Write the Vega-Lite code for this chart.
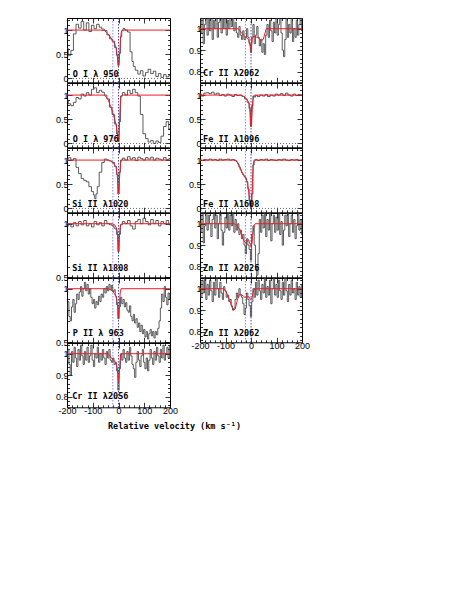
{
"$schema":"https://vega.github.io/schema/vega-lite/v6.json",
"padding":{"left":54,"top":15,"right":0,"bottom":0},
"background":"white",
"config":{"view":{"stroke":"black","strokeWidth":1},"axis":{"domain":false,"grid":false,"tickColor":"black","tickWidth":0.8,"labelFont":"Liberation Sans","labelFontSize":9,"labelColor":"black","labelOverlap":false,"labelFlush":false,"labelBound":false},"axisX":{"labelPadding":4.5},"axisY":{"labelPadding":4}},
"title":{"text":"Relative velocity (km s⁻¹)","orient":"bottom","anchor":"start","frame":"group","dx":41,"font":"DejaVu Sans Mono","fontSize":8.5,"fontWeight":"bold","color":"black","offset":3},
"datasets":{"s":[
{"p":"a","s":"d","v":-200,"f":0.62},{"p":"a","s":"d","v":-190,"f":0.48},{"p":"a","s":"d","v":-180,"f":0.58},{"p":"a","s":"d","v":-170,"f":0.92},{"p":"a","s":"d","v":-160,"f":1.12},{"p":"a","s":"d","v":-150,"f":1.04},{"p":"a","s":"d","v":-140,"f":1.18},{"p":"a","s":"d","v":-130,"f":1.0},{"p":"a","s":"d","v":-120,"f":1.15},{"p":"a","s":"d","v":-110,"f":0.97},{"p":"a","s":"d","v":-100,"f":1.1},{"p":"a","s":"d","v":-90,"f":1.03},{"p":"a","s":"d","v":-80,"f":1.12},{"p":"a","s":"d","v":-70,"f":1.06},{"p":"a","s":"d","v":-60,"f":1.02},{"p":"a","s":"d","v":-50,"f":0.99},{"p":"a","s":"d","v":-40,"f":0.9},{"p":"a","s":"d","v":-30,"f":0.82},{"p":"a","s":"d","v":-20,"f":0.77},{"p":"a","s":"d","v":-10,"f":0.64},{"p":"a","s":"d","v":-5,"f":0.48},{"p":"a","s":"d","v":0,"f":0.27},{"p":"a","s":"d","v":5,"f":0.52},{"p":"a","s":"d","v":10,"f":0.86},{"p":"a","s":"d","v":15,"f":0.99},{"p":"a","s":"d","v":20,"f":1.03},{"p":"a","s":"d","v":30,"f":1.0},{"p":"a","s":"d","v":40,"f":0.96},{"p":"a","s":"d","v":50,"f":0.55},{"p":"a","s":"d","v":55,"f":0.35},{"p":"a","s":"d","v":60,"f":0.25},{"p":"a","s":"d","v":70,"f":0.17},{"p":"a","s":"d","v":80,"f":0.09},{"p":"a","s":"d","v":90,"f":0.16},{"p":"a","s":"d","v":100,"f":0.05},{"p":"a","s":"d","v":110,"f":0.12},{"p":"a","s":"d","v":120,"f":0.19},{"p":"a","s":"d","v":130,"f":0.1},{"p":"a","s":"d","v":140,"f":0.15},{"p":"a","s":"d","v":150,"f":0.04},{"p":"a","s":"d","v":160,"f":0.1},{"p":"a","s":"d","v":170,"f":0.02},{"p":"a","s":"d","v":180,"f":0.08},{"p":"a","s":"d","v":190,"f":0.03},{"p":"a","s":"d","v":200,"f":0.06},
{"p":"a","s":"m","v":-200,"f":1},{"p":"a","s":"m","v":-70,"f":1},{"p":"a","s":"m","v":-55,"f":0.99},{"p":"a","s":"m","v":-45,"f":0.95},{"p":"a","s":"m","v":-35,"f":0.88},{"p":"a","s":"m","v":-25,"f":0.8},{"p":"a","s":"m","v":-20,"f":0.76},{"p":"a","s":"m","v":-15,"f":0.72},{"p":"a","s":"m","v":-10,"f":0.64},{"p":"a","s":"m","v":-5,"f":0.48},{"p":"a","s":"m","v":-2,"f":0.33},{"p":"a","s":"m","v":0,"f":0.28},{"p":"a","s":"m","v":2,"f":0.32},{"p":"a","s":"m","v":5,"f":0.55},{"p":"a","s":"m","v":8,"f":0.82},{"p":"a","s":"m","v":11,"f":0.96},{"p":"a","s":"m","v":15,"f":1},{"p":"a","s":"m","v":200,"f":1},
{"p":"b","s":"d","v":-200,"f":0.9},{"p":"b","s":"d","v":-190,"f":0.82},{"p":"b","s":"d","v":-180,"f":0.78},{"p":"b","s":"d","v":-170,"f":0.85},{"p":"b","s":"d","v":-160,"f":0.95},{"p":"b","s":"d","v":-150,"f":0.92},{"p":"b","s":"d","v":-140,"f":1.02},{"p":"b","s":"d","v":-130,"f":0.98},{"p":"b","s":"d","v":-120,"f":1.05},{"p":"b","s":"d","v":-110,"f":1.0},{"p":"b","s":"d","v":-100,"f":1.12},{"p":"b","s":"d","v":-90,"f":1.15},{"p":"b","s":"d","v":-80,"f":1.05},{"p":"b","s":"d","v":-70,"f":1.1},{"p":"b","s":"d","v":-60,"f":1.06},{"p":"b","s":"d","v":-50,"f":1.0},{"p":"b","s":"d","v":-40,"f":0.92},{"p":"b","s":"d","v":-30,"f":0.75},{"p":"b","s":"d","v":-20,"f":0.6},{"p":"b","s":"d","v":-10,"f":0.4},{"p":"b","s":"d","v":-5,"f":0.2},{"p":"b","s":"d","v":0,"f":0.04},{"p":"b","s":"d","v":5,"f":0.45},{"p":"b","s":"d","v":10,"f":0.98},{"p":"b","s":"d","v":20,"f":1.05},{"p":"b","s":"d","v":30,"f":1.0},{"p":"b","s":"d","v":40,"f":1.1},{"p":"b","s":"d","v":50,"f":1.03},{"p":"b","s":"d","v":60,"f":1.12},{"p":"b","s":"d","v":70,"f":1.05},{"p":"b","s":"d","v":80,"f":0.98},{"p":"b","s":"d","v":90,"f":0.6},{"p":"b","s":"d","v":100,"f":0.2},{"p":"b","s":"d","v":110,"f":0.1},{"p":"b","s":"d","v":120,"f":0.03},{"p":"b","s":"d","v":130,"f":0.06},{"p":"b","s":"d","v":140,"f":0.0},{"p":"b","s":"d","v":150,"f":0.05},{"p":"b","s":"d","v":160,"f":0.02},{"p":"b","s":"d","v":170,"f":0.15},{"p":"b","s":"d","v":180,"f":0.35},{"p":"b","s":"d","v":190,"f":0.45},{"p":"b","s":"d","v":200,"f":0.3},
{"p":"b","s":"m","v":-200,"f":1},{"p":"b","s":"m","v":-60,"f":1},{"p":"b","s":"m","v":-50,"f":0.98},{"p":"b","s":"m","v":-40,"f":0.9},{"p":"b","s":"m","v":-30,"f":0.76},{"p":"b","s":"m","v":-20,"f":0.6},{"p":"b","s":"m","v":-10,"f":0.4},{"p":"b","s":"m","v":-5,"f":0.25},{"p":"b","s":"m","v":-2,"f":0.12},{"p":"b","s":"m","v":0,"f":0.07},{"p":"b","s":"m","v":2,"f":0.15},{"p":"b","s":"m","v":4,"f":0.45},{"p":"b","s":"m","v":7,"f":0.8},{"p":"b","s":"m","v":10,"f":0.96},{"p":"b","s":"m","v":14,"f":1},{"p":"b","s":"m","v":200,"f":1},
{"p":"c","s":"d","v":-200,"f":1.02},{"p":"c","s":"d","v":-190,"f":1.05},{"p":"c","s":"d","v":-180,"f":1.0},{"p":"c","s":"d","v":-170,"f":1.03},{"p":"c","s":"d","v":-160,"f":0.85},{"p":"c","s":"d","v":-150,"f":0.72},{"p":"c","s":"d","v":-140,"f":0.62},{"p":"c","s":"d","v":-130,"f":0.58},{"p":"c","s":"d","v":-120,"f":0.55},{"p":"c","s":"d","v":-110,"f":0.45},{"p":"c","s":"d","v":-100,"f":0.35},{"p":"c","s":"d","v":-95,"f":0.28},{"p":"c","s":"d","v":-90,"f":0.2},{"p":"c","s":"d","v":-85,"f":0.3},{"p":"c","s":"d","v":-80,"f":0.45},{"p":"c","s":"d","v":-70,"f":0.75},{"p":"c","s":"d","v":-60,"f":0.95},{"p":"c","s":"d","v":-50,"f":1.02},{"p":"c","s":"d","v":-40,"f":1.0},{"p":"c","s":"d","v":-30,"f":0.98},{"p":"c","s":"d","v":-20,"f":0.95},{"p":"c","s":"d","v":-10,"f":0.87},{"p":"c","s":"d","v":-5,"f":0.7},{"p":"c","s":"d","v":0,"f":0.3},{"p":"c","s":"d","v":5,"f":0.75},{"p":"c","s":"d","v":10,"f":1.0},{"p":"c","s":"d","v":20,"f":1.04},{"p":"c","s":"d","v":30,"f":1.0},{"p":"c","s":"d","v":40,"f":1.07},{"p":"c","s":"d","v":50,"f":1.02},{"p":"c","s":"d","v":60,"f":1.05},{"p":"c","s":"d","v":70,"f":0.99},{"p":"c","s":"d","v":80,"f":1.06},{"p":"c","s":"d","v":90,"f":1.03},{"p":"c","s":"d","v":100,"f":1.0},{"p":"c","s":"d","v":110,"f":1.05},{"p":"c","s":"d","v":120,"f":1.02},{"p":"c","s":"d","v":130,"f":1.06},{"p":"c","s":"d","v":140,"f":1.0},{"p":"c","s":"d","v":150,"f":1.04},{"p":"c","s":"d","v":160,"f":1.02},{"p":"c","s":"d","v":170,"f":1.0},{"p":"c","s":"d","v":180,"f":1.05},{"p":"c","s":"d","v":190,"f":1.01},{"p":"c","s":"d","v":200,"f":1.03},
{"p":"c","s":"m","v":-200,"f":1},{"p":"c","s":"m","v":-40,"f":1},{"p":"c","s":"m","v":-30,"f":0.98},{"p":"c","s":"m","v":-20,"f":0.94},{"p":"c","s":"m","v":-15,"f":0.9},{"p":"c","s":"m","v":-10,"f":0.86},{"p":"c","s":"m","v":-5,"f":0.7},{"p":"c","s":"m","v":-2,"f":0.45},{"p":"c","s":"m","v":0,"f":0.3},{"p":"c","s":"m","v":2,"f":0.4},{"p":"c","s":"m","v":5,"f":0.72},{"p":"c","s":"m","v":8,"f":0.93},{"p":"c","s":"m","v":12,"f":1},{"p":"c","s":"m","v":200,"f":1},
{"p":"d","s":"d","v":-200,"f":0.98},{"p":"d","s":"d","v":-190,"f":1.0},{"p":"d","s":"d","v":-180,"f":0.97},{"p":"d","s":"d","v":-170,"f":1.01},{"p":"d","s":"d","v":-160,"f":0.98},{"p":"d","s":"d","v":-150,"f":1.02},{"p":"d","s":"d","v":-140,"f":0.99},{"p":"d","s":"d","v":-130,"f":1.03},{"p":"d","s":"d","v":-120,"f":0.98},{"p":"d","s":"d","v":-110,"f":1.0},{"p":"d","s":"d","v":-100,"f":0.97},{"p":"d","s":"d","v":-90,"f":1.02},{"p":"d","s":"d","v":-80,"f":0.99},{"p":"d","s":"d","v":-70,"f":1.01},{"p":"d","s":"d","v":-60,"f":0.98},{"p":"d","s":"d","v":-50,"f":1.03},{"p":"d","s":"d","v":-40,"f":1.0},{"p":"d","s":"d","v":-30,"f":0.99},{"p":"d","s":"d","v":-20,"f":0.98},{"p":"d","s":"d","v":-15,"f":0.96},{"p":"d","s":"d","v":-10,"f":0.95},{"p":"d","s":"d","v":-5,"f":0.9},{"p":"d","s":"d","v":0,"f":0.74},{"p":"d","s":"d","v":5,"f":0.9},{"p":"d","s":"d","v":10,"f":0.99},{"p":"d","s":"d","v":20,"f":1.02},{"p":"d","s":"d","v":30,"f":1.0},{"p":"d","s":"d","v":40,"f":1.03},{"p":"d","s":"d","v":50,"f":0.98},{"p":"d","s":"d","v":60,"f":0.95},{"p":"d","s":"d","v":70,"f":1.02},{"p":"d","s":"d","v":80,"f":1.04},{"p":"d","s":"d","v":90,"f":1.0},{"p":"d","s":"d","v":100,"f":1.05},{"p":"d","s":"d","v":110,"f":1.02},{"p":"d","s":"d","v":120,"f":0.99},{"p":"d","s":"d","v":130,"f":1.04},{"p":"d","s":"d","v":140,"f":1.0},{"p":"d","s":"d","v":150,"f":1.03},{"p":"d","s":"d","v":160,"f":0.98},{"p":"d","s":"d","v":170,"f":1.02},{"p":"d","s":"d","v":180,"f":1.0},{"p":"d","s":"d","v":190,"f":1.03},{"p":"d","s":"d","v":200,"f":0.99},
{"p":"d","s":"m","v":-200,"f":1},{"p":"d","s":"m","v":-25,"f":1},{"p":"d","s":"m","v":-15,"f":0.99},{"p":"d","s":"m","v":-10,"f":0.97},{"p":"d","s":"m","v":-5,"f":0.93},{"p":"d","s":"m","v":-2,"f":0.84},{"p":"d","s":"m","v":0,"f":0.75},{"p":"d","s":"m","v":2,"f":0.82},{"p":"d","s":"m","v":5,"f":0.94},{"p":"d","s":"m","v":8,"f":0.99},{"p":"d","s":"m","v":12,"f":1},{"p":"d","s":"m","v":200,"f":1},
{"p":"e","s":"d","v":-200,"f":0.8},{"p":"e","s":"d","v":-195,"f":0.88},{"p":"e","s":"d","v":-190,"f":0.74},{"p":"e","s":"d","v":-185,"f":0.7},{"p":"e","s":"d","v":-180,"f":0.83},{"p":"e","s":"d","v":-175,"f":0.9},{"p":"e","s":"d","v":-170,"f":0.78},{"p":"e","s":"d","v":-165,"f":0.86},{"p":"e","s":"d","v":-160,"f":0.95},{"p":"e","s":"d","v":-155,"f":0.9},{"p":"e","s":"d","v":-150,"f":0.97},{"p":"e","s":"d","v":-145,"f":1.02},{"p":"e","s":"d","v":-140,"f":0.93},{"p":"e","s":"d","v":-135,"f":1.0},{"p":"e","s":"d","v":-130,"f":1.06},{"p":"e","s":"d","v":-125,"f":0.98},{"p":"e","s":"d","v":-120,"f":1.04},{"p":"e","s":"d","v":-115,"f":0.95},{"p":"e","s":"d","v":-110,"f":1.0},{"p":"e","s":"d","v":-105,"f":0.92},{"p":"e","s":"d","v":-100,"f":0.86},{"p":"e","s":"d","v":-95,"f":0.9},{"p":"e","s":"d","v":-90,"f":0.82},{"p":"e","s":"d","v":-85,"f":0.88},{"p":"e","s":"d","v":-80,"f":0.85},{"p":"e","s":"d","v":-75,"f":0.93},{"p":"e","s":"d","v":-70,"f":0.88},{"p":"e","s":"d","v":-65,"f":0.95},{"p":"e","s":"d","v":-60,"f":0.92},{"p":"e","s":"d","v":-55,"f":1.0},{"p":"e","s":"d","v":-50,"f":0.96},{"p":"e","s":"d","v":-45,"f":1.02},{"p":"e","s":"d","v":-40,"f":0.98},{"p":"e","s":"d","v":-35,"f":1.04},{"p":"e","s":"d","v":-30,"f":0.99},{"p":"e","s":"d","v":-25,"f":1.03},{"p":"e","s":"d","v":-20,"f":0.97},{"p":"e","s":"d","v":-15,"f":0.99},{"p":"e","s":"d","v":-10,"f":0.93},{"p":"e","s":"d","v":-5,"f":0.85},{"p":"e","s":"d","v":0,"f":0.72},{"p":"e","s":"d","v":5,"f":0.83},{"p":"e","s":"d","v":10,"f":0.92},{"p":"e","s":"d","v":15,"f":0.86},{"p":"e","s":"d","v":20,"f":0.9},{"p":"e","s":"d","v":25,"f":0.83},{"p":"e","s":"d","v":30,"f":0.87},{"p":"e","s":"d","v":35,"f":0.8},{"p":"e","s":"d","v":40,"f":0.78},{"p":"e","s":"d","v":45,"f":0.84},{"p":"e","s":"d","v":50,"f":0.74},{"p":"e","s":"d","v":55,"f":0.7},{"p":"e","s":"d","v":60,"f":0.76},{"p":"e","s":"d","v":65,"f":0.68},{"p":"e","s":"d","v":70,"f":0.72},{"p":"e","s":"d","v":75,"f":0.64},{"p":"e","s":"d","v":80,"f":0.68},{"p":"e","s":"d","v":85,"f":0.6},{"p":"e","s":"d","v":90,"f":0.66},{"p":"e","s":"d","v":95,"f":0.58},{"p":"e","s":"d","v":100,"f":0.62},{"p":"e","s":"d","v":105,"f":0.55},{"p":"e","s":"d","v":110,"f":0.6},{"p":"e","s":"d","v":115,"f":0.53},{"p":"e","s":"d","v":120,"f":0.58},{"p":"e","s":"d","v":125,"f":0.62},{"p":"e","s":"d","v":130,"f":0.56},{"p":"e","s":"d","v":135,"f":0.6},{"p":"e","s":"d","v":140,"f":0.54},{"p":"e","s":"d","v":145,"f":0.6},{"p":"e","s":"d","v":150,"f":0.57},{"p":"e","s":"d","v":155,"f":0.63},{"p":"e","s":"d","v":160,"f":0.7},{"p":"e","s":"d","v":165,"f":0.82},{"p":"e","s":"d","v":170,"f":0.95},{"p":"e","s":"d","v":175,"f":0.88},{"p":"e","s":"d","v":180,"f":1.02},{"p":"e","s":"d","v":185,"f":0.92},{"p":"e","s":"d","v":190,"f":0.85},{"p":"e","s":"d","v":195,"f":0.96},{"p":"e","s":"d","v":200,"f":0.9},
{"p":"e","s":"m","v":-200,"f":1},{"p":"e","s":"m","v":-40,"f":1},{"p":"e","s":"m","v":-30,"f":0.99},{"p":"e","s":"m","v":-20,"f":0.97},{"p":"e","s":"m","v":-15,"f":0.955},{"p":"e","s":"m","v":-10,"f":0.93},{"p":"e","s":"m","v":-5,"f":0.88},{"p":"e","s":"m","v":-2,"f":0.8},{"p":"e","s":"m","v":0,"f":0.73},{"p":"e","s":"m","v":2,"f":0.78},{"p":"e","s":"m","v":4,"f":0.88},{"p":"e","s":"m","v":7,"f":0.97},{"p":"e","s":"m","v":10,"f":1},{"p":"e","s":"m","v":200,"f":1},
{"p":"f","s":"d","v":-200,"f":0.97},{"p":"f","s":"d","v":-195,"f":1.02},{"p":"f","s":"d","v":-190,"f":0.95},{"p":"f","s":"d","v":-185,"f":0.9},{"p":"f","s":"d","v":-180,"f":1.01},{"p":"f","s":"d","v":-175,"f":0.96},{"p":"f","s":"d","v":-170,"f":1.03},{"p":"f","s":"d","v":-165,"f":0.98},{"p":"f","s":"d","v":-160,"f":0.94},{"p":"f","s":"d","v":-155,"f":1.02},{"p":"f","s":"d","v":-150,"f":0.97},{"p":"f","s":"d","v":-145,"f":1.04},{"p":"f","s":"d","v":-140,"f":0.99},{"p":"f","s":"d","v":-135,"f":0.95},{"p":"f","s":"d","v":-130,"f":1.01},{"p":"f","s":"d","v":-125,"f":0.97},{"p":"f","s":"d","v":-120,"f":1.03},{"p":"f","s":"d","v":-115,"f":0.96},{"p":"f","s":"d","v":-110,"f":0.99},{"p":"f","s":"d","v":-105,"f":1.04},{"p":"f","s":"d","v":-100,"f":0.97},{"p":"f","s":"d","v":-95,"f":0.94},{"p":"f","s":"d","v":-90,"f":1.0},{"p":"f","s":"d","v":-85,"f":0.98},{"p":"f","s":"d","v":-80,"f":1.03},{"p":"f","s":"d","v":-75,"f":0.96},{"p":"f","s":"d","v":-70,"f":1.0},{"p":"f","s":"d","v":-65,"f":0.97},{"p":"f","s":"d","v":-60,"f":1.02},{"p":"f","s":"d","v":-55,"f":0.98},{"p":"f","s":"d","v":-50,"f":0.95},{"p":"f","s":"d","v":-45,"f":1.01},{"p":"f","s":"d","v":-40,"f":0.98},{"p":"f","s":"d","v":-35,"f":1.02},{"p":"f","s":"d","v":-30,"f":0.97},{"p":"f","s":"d","v":-25,"f":0.96},{"p":"f","s":"d","v":-20,"f":0.98},{"p":"f","s":"d","v":-15,"f":0.95},{"p":"f","s":"d","v":-10,"f":0.96},{"p":"f","s":"d","v":-5,"f":0.92},{"p":"f","s":"d","v":0,"f":0.83},{"p":"f","s":"d","v":5,"f":0.93},{"p":"f","s":"d","v":10,"f":1.0},{"p":"f","s":"d","v":15,"f":0.97},{"p":"f","s":"d","v":20,"f":1.02},{"p":"f","s":"d","v":25,"f":0.98},{"p":"f","s":"d","v":30,"f":0.96},{"p":"f","s":"d","v":35,"f":1.01},{"p":"f","s":"d","v":40,"f":0.97},{"p":"f","s":"d","v":45,"f":1.03},{"p":"f","s":"d","v":50,"f":0.99},{"p":"f","s":"d","v":55,"f":0.95},{"p":"f","s":"d","v":60,"f":0.93},{"p":"f","s":"d","v":65,"f":0.89},{"p":"f","s":"d","v":70,"f":0.96},{"p":"f","s":"d","v":75,"f":1.01},{"p":"f","s":"d","v":80,"f":0.97},{"p":"f","s":"d","v":85,"f":0.94},{"p":"f","s":"d","v":90,"f":0.99},{"p":"f","s":"d","v":95,"f":1.02},{"p":"f","s":"d","v":100,"f":0.96},{"p":"f","s":"d","v":105,"f":0.93},{"p":"f","s":"d","v":110,"f":0.98},{"p":"f","s":"d","v":115,"f":0.92},{"p":"f","s":"d","v":120,"f":0.97},{"p":"f","s":"d","v":125,"f":1.02},{"p":"f","s":"d","v":130,"f":0.98},{"p":"f","s":"d","v":135,"f":0.95},{"p":"f","s":"d","v":140,"f":1.01},{"p":"f","s":"d","v":145,"f":0.97},{"p":"f","s":"d","v":150,"f":1.03},{"p":"f","s":"d","v":155,"f":0.99},{"p":"f","s":"d","v":160,"f":0.96},{"p":"f","s":"d","v":165,"f":1.02},{"p":"f","s":"d","v":170,"f":0.98},{"p":"f","s":"d","v":175,"f":1.04},{"p":"f","s":"d","v":180,"f":0.97},{"p":"f","s":"d","v":185,"f":1.0},{"p":"f","s":"d","v":190,"f":1.03},{"p":"f","s":"d","v":195,"f":0.98},{"p":"f","s":"d","v":200,"f":1.04},
{"p":"f","s":"m","v":-200,"f":1},{"p":"f","s":"m","v":-40,"f":1},{"p":"f","s":"m","v":-33,"f":0.99},{"p":"f","s":"m","v":-27,"f":0.978},{"p":"f","s":"m","v":-22,"f":0.972},{"p":"f","s":"m","v":-16,"f":0.968},{"p":"f","s":"m","v":-10,"f":0.955},{"p":"f","s":"m","v":-5,"f":0.935},{"p":"f","s":"m","v":-2,"f":0.9},{"p":"f","s":"m","v":0,"f":0.87},{"p":"f","s":"m","v":2,"f":0.89},{"p":"f","s":"m","v":5,"f":0.95},{"p":"f","s":"m","v":8,"f":0.99},{"p":"f","s":"m","v":12,"f":1},{"p":"f","s":"m","v":200,"f":1},
{"p":"g","s":"d","v":-200,"f":1.04},{"p":"g","s":"d","v":-195,"f":0.98},{"p":"g","s":"d","v":-190,"f":1.05},{"p":"g","s":"d","v":-185,"f":0.93},{"p":"g","s":"d","v":-180,"f":1.02},{"p":"g","s":"d","v":-175,"f":1.06},{"p":"g","s":"d","v":-170,"f":0.97},{"p":"g","s":"d","v":-165,"f":1.05},{"p":"g","s":"d","v":-160,"f":0.99},{"p":"g","s":"d","v":-155,"f":1.06},{"p":"g","s":"d","v":-150,"f":0.95},{"p":"g","s":"d","v":-145,"f":1.04},{"p":"g","s":"d","v":-140,"f":1.0},{"p":"g","s":"d","v":-135,"f":1.06},{"p":"g","s":"d","v":-130,"f":0.96},{"p":"g","s":"d","v":-125,"f":1.03},{"p":"g","s":"d","v":-120,"f":1.06},{"p":"g","s":"d","v":-115,"f":0.98},{"p":"g","s":"d","v":-110,"f":1.05},{"p":"g","s":"d","v":-105,"f":1.0},{"p":"g","s":"d","v":-100,"f":1.06},{"p":"g","s":"d","v":-95,"f":0.97},{"p":"g","s":"d","v":-90,"f":1.04},{"p":"g","s":"d","v":-85,"f":1.0},{"p":"g","s":"d","v":-80,"f":1.06},{"p":"g","s":"d","v":-75,"f":1.01},{"p":"g","s":"d","v":-70,"f":1.05},{"p":"g","s":"d","v":-65,"f":0.99},{"p":"g","s":"d","v":-60,"f":1.03},{"p":"g","s":"d","v":-55,"f":0.98},{"p":"g","s":"d","v":-50,"f":0.96},{"p":"g","s":"d","v":-45,"f":1.01},{"p":"g","s":"d","v":-40,"f":0.97},{"p":"g","s":"d","v":-35,"f":0.95},{"p":"g","s":"d","v":-30,"f":0.99},{"p":"g","s":"d","v":-25,"f":0.95},{"p":"g","s":"d","v":-20,"f":0.96},{"p":"g","s":"d","v":-15,"f":1.0},{"p":"g","s":"d","v":-10,"f":0.96},{"p":"g","s":"d","v":-5,"f":0.93},{"p":"g","s":"d","v":0,"f":0.89},{"p":"g","s":"d","v":5,"f":0.96},{"p":"g","s":"d","v":10,"f":1.02},{"p":"g","s":"d","v":15,"f":0.93},{"p":"g","s":"d","v":20,"f":0.97},{"p":"g","s":"d","v":25,"f":1.01},{"p":"g","s":"d","v":30,"f":0.96},{"p":"g","s":"d","v":35,"f":0.92},{"p":"g","s":"d","v":40,"f":0.95},{"p":"g","s":"d","v":45,"f":0.89},{"p":"g","s":"d","v":50,"f":0.93},{"p":"g","s":"d","v":55,"f":0.88},{"p":"g","s":"d","v":60,"f":0.97},{"p":"g","s":"d","v":65,"f":1.02},{"p":"g","s":"d","v":70,"f":0.96},{"p":"g","s":"d","v":75,"f":1.04},{"p":"g","s":"d","v":80,"f":0.99},{"p":"g","s":"d","v":85,"f":0.94},{"p":"g","s":"d","v":90,"f":1.03},{"p":"g","s":"d","v":95,"f":0.98},{"p":"g","s":"d","v":100,"f":1.05},{"p":"g","s":"d","v":105,"f":0.97},{"p":"g","s":"d","v":110,"f":1.02},{"p":"g","s":"d","v":115,"f":1.06},{"p":"g","s":"d","v":120,"f":0.98},{"p":"g","s":"d","v":125,"f":0.9},{"p":"g","s":"d","v":130,"f":0.87},{"p":"g","s":"d","v":135,"f":0.95},{"p":"g","s":"d","v":140,"f":1.05},{"p":"g","s":"d","v":145,"f":0.96},{"p":"g","s":"d","v":150,"f":1.02},{"p":"g","s":"d","v":155,"f":0.98},{"p":"g","s":"d","v":160,"f":1.05},{"p":"g","s":"d","v":165,"f":0.94},{"p":"g","s":"d","v":170,"f":1.0},{"p":"g","s":"d","v":175,"f":0.96},{"p":"g","s":"d","v":180,"f":1.04},{"p":"g","s":"d","v":185,"f":0.97},{"p":"g","s":"d","v":190,"f":1.02},{"p":"g","s":"d","v":195,"f":1.05},{"p":"g","s":"d","v":200,"f":0.99},
{"p":"g","s":"m","v":-200,"f":1},{"p":"g","s":"m","v":-50,"f":1},{"p":"g","s":"m","v":-40,"f":0.985},{"p":"g","s":"m","v":-30,"f":0.97},{"p":"g","s":"m","v":-20,"f":0.96},{"p":"g","s":"m","v":-10,"f":0.95},{"p":"g","s":"m","v":-5,"f":0.93},{"p":"g","s":"m","v":0,"f":0.9},{"p":"g","s":"m","v":5,"f":0.95},{"p":"g","s":"m","v":10,"f":0.965},{"p":"g","s":"m","v":20,"f":0.962},{"p":"g","s":"m","v":30,"f":0.955},{"p":"g","s":"m","v":40,"f":0.945},{"p":"g","s":"m","v":48,"f":0.95},{"p":"g","s":"m","v":55,"f":0.98},{"p":"g","s":"m","v":60,"f":1},{"p":"g","s":"m","v":200,"f":1},
{"p":"h","s":"d","v":-200,"f":1.02},{"p":"h","s":"d","v":-190,"f":0.98},{"p":"h","s":"d","v":-180,"f":1.04},{"p":"h","s":"d","v":-170,"f":1.05},{"p":"h","s":"d","v":-160,"f":1.03},{"p":"h","s":"d","v":-150,"f":1.06},{"p":"h","s":"d","v":-140,"f":1.02},{"p":"h","s":"d","v":-130,"f":1.04},{"p":"h","s":"d","v":-120,"f":0.99},{"p":"h","s":"d","v":-110,"f":1.01},{"p":"h","s":"d","v":-100,"f":0.98},{"p":"h","s":"d","v":-90,"f":1.02},{"p":"h","s":"d","v":-80,"f":1.0},{"p":"h","s":"d","v":-70,"f":0.97},{"p":"h","s":"d","v":-60,"f":1.01},{"p":"h","s":"d","v":-50,"f":0.99},{"p":"h","s":"d","v":-40,"f":1.0},{"p":"h","s":"d","v":-30,"f":0.97},{"p":"h","s":"d","v":-20,"f":0.92},{"p":"h","s":"d","v":-10,"f":0.85},{"p":"h","s":"d","v":-5,"f":0.72},{"p":"h","s":"d","v":0,"f":0.37},{"p":"h","s":"d","v":5,"f":0.78},{"p":"h","s":"d","v":10,"f":0.98},{"p":"h","s":"d","v":15,"f":0.96},{"p":"h","s":"d","v":20,"f":0.99},{"p":"h","s":"d","v":30,"f":0.97},{"p":"h","s":"d","v":40,"f":1.0},{"p":"h","s":"d","v":50,"f":0.98},{"p":"h","s":"d","v":60,"f":1.01},{"p":"h","s":"d","v":70,"f":0.97},{"p":"h","s":"d","v":80,"f":1.0},{"p":"h","s":"d","v":90,"f":0.98},{"p":"h","s":"d","v":100,"f":1.02},{"p":"h","s":"d","v":110,"f":1.0},{"p":"h","s":"d","v":120,"f":1.03},{"p":"h","s":"d","v":130,"f":0.99},{"p":"h","s":"d","v":140,"f":1.04},{"p":"h","s":"d","v":150,"f":1.0},{"p":"h","s":"d","v":160,"f":0.98},{"p":"h","s":"d","v":170,"f":1.02},{"p":"h","s":"d","v":180,"f":0.99},{"p":"h","s":"d","v":190,"f":1.01},{"p":"h","s":"d","v":200,"f":1.0},
{"p":"h","s":"m","v":-200,"f":1},{"p":"h","s":"m","v":-45,"f":1},{"p":"h","s":"m","v":-35,"f":0.99},{"p":"h","s":"m","v":-25,"f":0.96},{"p":"h","s":"m","v":-18,"f":0.92},{"p":"h","s":"m","v":-12,"f":0.88},{"p":"h","s":"m","v":-7,"f":0.8},{"p":"h","s":"m","v":-4,"f":0.65},{"p":"h","s":"m","v":-2,"f":0.45},{"p":"h","s":"m","v":0,"f":0.34},{"p":"h","s":"m","v":2,"f":0.42},{"p":"h","s":"m","v":4,"f":0.62},{"p":"h","s":"m","v":7,"f":0.86},{"p":"h","s":"m","v":10,"f":0.97},{"p":"h","s":"m","v":14,"f":1},{"p":"h","s":"m","v":200,"f":1},
{"p":"i","s":"d","v":-200,"f":1.0},{"p":"i","s":"d","v":-190,"f":0.99},{"p":"i","s":"d","v":-180,"f":1.01},{"p":"i","s":"d","v":-170,"f":1.0},{"p":"i","s":"d","v":-160,"f":1.02},{"p":"i","s":"d","v":-150,"f":1.0},{"p":"i","s":"d","v":-140,"f":1.01},{"p":"i","s":"d","v":-130,"f":0.99},{"p":"i","s":"d","v":-120,"f":1.02},{"p":"i","s":"d","v":-110,"f":1.0},{"p":"i","s":"d","v":-100,"f":1.01},{"p":"i","s":"d","v":-90,"f":1.02},{"p":"i","s":"d","v":-80,"f":1.0},{"p":"i","s":"d","v":-70,"f":1.01},{"p":"i","s":"d","v":-60,"f":0.99},{"p":"i","s":"d","v":-55,"f":0.96},{"p":"i","s":"d","v":-50,"f":0.92},{"p":"i","s":"d","v":-45,"f":0.86},{"p":"i","s":"d","v":-40,"f":0.8},{"p":"i","s":"d","v":-35,"f":0.74},{"p":"i","s":"d","v":-30,"f":0.7},{"p":"i","s":"d","v":-25,"f":0.66},{"p":"i","s":"d","v":-20,"f":0.63},{"p":"i","s":"d","v":-15,"f":0.55},{"p":"i","s":"d","v":-10,"f":0.4},{"p":"i","s":"d","v":-5,"f":0.16},{"p":"i","s":"d","v":0,"f":0.02},{"p":"i","s":"d","v":5,"f":0.3},{"p":"i","s":"d","v":10,"f":0.9},{"p":"i","s":"d","v":15,"f":1.0},{"p":"i","s":"d","v":20,"f":1.01},{"p":"i","s":"d","v":30,"f":0.99},{"p":"i","s":"d","v":40,"f":1.01},{"p":"i","s":"d","v":50,"f":1.0},{"p":"i","s":"d","v":60,"f":1.02},{"p":"i","s":"d","v":70,"f":0.99},{"p":"i","s":"d","v":80,"f":1.01},{"p":"i","s":"d","v":90,"f":1.0},{"p":"i","s":"d","v":100,"f":0.99},{"p":"i","s":"d","v":110,"f":1.01},{"p":"i","s":"d","v":120,"f":1.0},{"p":"i","s":"d","v":130,"f":1.02},{"p":"i","s":"d","v":140,"f":1.0},{"p":"i","s":"d","v":150,"f":0.99},{"p":"i","s":"d","v":160,"f":1.01},{"p":"i","s":"d","v":170,"f":1.0},{"p":"i","s":"d","v":180,"f":1.01},{"p":"i","s":"d","v":190,"f":0.99},{"p":"i","s":"d","v":200,"f":1.0},
{"p":"i","s":"m","v":-200,"f":1},{"p":"i","s":"m","v":-60,"f":1},{"p":"i","s":"m","v":-50,"f":0.93},{"p":"i","s":"m","v":-40,"f":0.8},{"p":"i","s":"m","v":-30,"f":0.7},{"p":"i","s":"m","v":-25,"f":0.66},{"p":"i","s":"m","v":-20,"f":0.62},{"p":"i","s":"m","v":-15,"f":0.55},{"p":"i","s":"m","v":-10,"f":0.4},{"p":"i","s":"m","v":-5,"f":0.15},{"p":"i","s":"m","v":-2,"f":0.03},{"p":"i","s":"m","v":0,"f":0.02},{"p":"i","s":"m","v":3,"f":0.1},{"p":"i","s":"m","v":6,"f":0.55},{"p":"i","s":"m","v":9,"f":0.9},{"p":"i","s":"m","v":12,"f":0.99},{"p":"i","s":"m","v":15,"f":1},{"p":"i","s":"m","v":200,"f":1},
{"p":"j","s":"d","v":-200,"f":1.03},{"p":"j","s":"d","v":-195,"f":0.96},{"p":"j","s":"d","v":-190,"f":1.05},{"p":"j","s":"d","v":-185,"f":0.91},{"p":"j","s":"d","v":-180,"f":0.99},{"p":"j","s":"d","v":-175,"f":1.06},{"p":"j","s":"d","v":-170,"f":0.97},{"p":"j","s":"d","v":-165,"f":1.04},{"p":"j","s":"d","v":-160,"f":1.0},{"p":"j","s":"d","v":-155,"f":0.94},{"p":"j","s":"d","v":-150,"f":1.02},{"p":"j","s":"d","v":-145,"f":1.06},{"p":"j","s":"d","v":-140,"f":0.98},{"p":"j","s":"d","v":-135,"f":1.04},{"p":"j","s":"d","v":-130,"f":0.93},{"p":"j","s":"d","v":-125,"f":1.0},{"p":"j","s":"d","v":-120,"f":1.05},{"p":"j","s":"d","v":-115,"f":0.97},{"p":"j","s":"d","v":-110,"f":0.9},{"p":"j","s":"d","v":-105,"f":0.96},{"p":"j","s":"d","v":-100,"f":1.03},{"p":"j","s":"d","v":-95,"f":0.98},{"p":"j","s":"d","v":-90,"f":1.06},{"p":"j","s":"d","v":-85,"f":0.97},{"p":"j","s":"d","v":-80,"f":1.04},{"p":"j","s":"d","v":-75,"f":0.99},{"p":"j","s":"d","v":-70,"f":1.05},{"p":"j","s":"d","v":-65,"f":0.96},{"p":"j","s":"d","v":-60,"f":1.02},{"p":"j","s":"d","v":-55,"f":0.97},{"p":"j","s":"d","v":-50,"f":1.0},{"p":"j","s":"d","v":-45,"f":0.95},{"p":"j","s":"d","v":-40,"f":0.97},{"p":"j","s":"d","v":-35,"f":0.93},{"p":"j","s":"d","v":-30,"f":0.95},{"p":"j","s":"d","v":-25,"f":0.9},{"p":"j","s":"d","v":-20,"f":0.86},{"p":"j","s":"d","v":-15,"f":0.93},{"p":"j","s":"d","v":-10,"f":0.9},{"p":"j","s":"d","v":-5,"f":0.88},{"p":"j","s":"d","v":0,"f":0.83},{"p":"j","s":"d","v":5,"f":0.95},{"p":"j","s":"d","v":10,"f":0.99},{"p":"j","s":"d","v":15,"f":0.9},{"p":"j","s":"d","v":20,"f":0.8},{"p":"j","s":"d","v":25,"f":0.76},{"p":"j","s":"d","v":30,"f":0.86},{"p":"j","s":"d","v":35,"f":1.02},{"p":"j","s":"d","v":40,"f":0.96},{"p":"j","s":"d","v":45,"f":1.04},{"p":"j","s":"d","v":50,"f":0.98},{"p":"j","s":"d","v":55,"f":1.05},{"p":"j","s":"d","v":60,"f":0.94},{"p":"j","s":"d","v":65,"f":1.02},{"p":"j","s":"d","v":70,"f":0.97},{"p":"j","s":"d","v":75,"f":1.05},{"p":"j","s":"d","v":80,"f":0.92},{"p":"j","s":"d","v":85,"f":1.0},{"p":"j","s":"d","v":90,"f":1.04},{"p":"j","s":"d","v":95,"f":0.96},{"p":"j","s":"d","v":100,"f":1.03},{"p":"j","s":"d","v":105,"f":0.97},{"p":"j","s":"d","v":110,"f":1.05},{"p":"j","s":"d","v":115,"f":0.95},{"p":"j","s":"d","v":120,"f":1.01},{"p":"j","s":"d","v":125,"f":0.9},{"p":"j","s":"d","v":130,"f":0.97},{"p":"j","s":"d","v":135,"f":1.04},{"p":"j","s":"d","v":140,"f":0.99},{"p":"j","s":"d","v":145,"f":1.05},{"p":"j","s":"d","v":150,"f":0.94},{"p":"j","s":"d","v":155,"f":1.0},{"p":"j","s":"d","v":160,"f":1.04},{"p":"j","s":"d","v":165,"f":0.96},{"p":"j","s":"d","v":170,"f":1.02},{"p":"j","s":"d","v":175,"f":0.93},{"p":"j","s":"d","v":180,"f":0.99},{"p":"j","s":"d","v":185,"f":1.05},{"p":"j","s":"d","v":190,"f":0.97},{"p":"j","s":"d","v":195,"f":1.02},{"p":"j","s":"d","v":200,"f":0.95},
{"p":"j","s":"m","v":-200,"f":1},{"p":"j","s":"m","v":-65,"f":1},{"p":"j","s":"m","v":-55,"f":0.99},{"p":"j","s":"m","v":-45,"f":0.975},{"p":"j","s":"m","v":-35,"f":0.945},{"p":"j","s":"m","v":-28,"f":0.92},{"p":"j","s":"m","v":-22,"f":0.912},{"p":"j","s":"m","v":-16,"f":0.918},{"p":"j","s":"m","v":-10,"f":0.925},{"p":"j","s":"m","v":-5,"f":0.91},{"p":"j","s":"m","v":0,"f":0.895},{"p":"j","s":"m","v":4,"f":0.91},{"p":"j","s":"m","v":8,"f":0.96},{"p":"j","s":"m","v":12,"f":0.99},{"p":"j","s":"m","v":16,"f":1},{"p":"j","s":"m","v":200,"f":1},
{"p":"k","s":"d","v":-200,"f":1.0},{"p":"k","s":"d","v":-195,"f":0.96},{"p":"k","s":"d","v":-190,"f":1.04},{"p":"k","s":"d","v":-185,"f":0.98},{"p":"k","s":"d","v":-180,"f":1.05},{"p":"k","s":"d","v":-175,"f":0.95},{"p":"k","s":"d","v":-170,"f":1.02},{"p":"k","s":"d","v":-165,"f":0.97},{"p":"k","s":"d","v":-160,"f":1.04},{"p":"k","s":"d","v":-155,"f":0.99},{"p":"k","s":"d","v":-150,"f":0.94},{"p":"k","s":"d","v":-145,"f":1.03},{"p":"k","s":"d","v":-140,"f":0.97},{"p":"k","s":"d","v":-135,"f":1.05},{"p":"k","s":"d","v":-130,"f":1.0},{"p":"k","s":"d","v":-125,"f":0.96},{"p":"k","s":"d","v":-120,"f":1.03},{"p":"k","s":"d","v":-115,"f":0.98},{"p":"k","s":"d","v":-110,"f":0.95},{"p":"k","s":"d","v":-105,"f":1.01},{"p":"k","s":"d","v":-100,"f":0.99},{"p":"k","s":"d","v":-95,"f":0.96},{"p":"k","s":"d","v":-90,"f":0.97},{"p":"k","s":"d","v":-85,"f":0.94},{"p":"k","s":"d","v":-80,"f":0.95},{"p":"k","s":"d","v":-75,"f":0.92},{"p":"k","s":"d","v":-70,"f":0.9},{"p":"k","s":"d","v":-65,"f":0.91},{"p":"k","s":"d","v":-60,"f":0.95},{"p":"k","s":"d","v":-55,"f":0.98},{"p":"k","s":"d","v":-50,"f":0.96},{"p":"k","s":"d","v":-45,"f":1.0},{"p":"k","s":"d","v":-40,"f":0.97},{"p":"k","s":"d","v":-35,"f":0.96},{"p":"k","s":"d","v":-30,"f":0.93},{"p":"k","s":"d","v":-25,"f":0.88},{"p":"k","s":"d","v":-20,"f":0.91},{"p":"k","s":"d","v":-15,"f":0.98},{"p":"k","s":"d","v":-10,"f":0.95},{"p":"k","s":"d","v":-5,"f":0.92},{"p":"k","s":"d","v":0,"f":0.87},{"p":"k","s":"d","v":5,"f":0.94},{"p":"k","s":"d","v":10,"f":1.0},{"p":"k","s":"d","v":15,"f":0.96},{"p":"k","s":"d","v":20,"f":1.03},{"p":"k","s":"d","v":25,"f":0.97},{"p":"k","s":"d","v":30,"f":1.04},{"p":"k","s":"d","v":35,"f":0.99},{"p":"k","s":"d","v":40,"f":0.95},{"p":"k","s":"d","v":45,"f":1.02},{"p":"k","s":"d","v":50,"f":0.98},{"p":"k","s":"d","v":55,"f":1.05},{"p":"k","s":"d","v":60,"f":0.96},{"p":"k","s":"d","v":65,"f":1.01},{"p":"k","s":"d","v":70,"f":0.97},{"p":"k","s":"d","v":75,"f":1.04},{"p":"k","s":"d","v":80,"f":0.93},{"p":"k","s":"d","v":85,"f":1.0},{"p":"k","s":"d","v":90,"f":1.05},{"p":"k","s":"d","v":95,"f":0.97},{"p":"k","s":"d","v":100,"f":1.02},{"p":"k","s":"d","v":105,"f":0.96},{"p":"k","s":"d","v":110,"f":1.04},{"p":"k","s":"d","v":115,"f":0.99},{"p":"k","s":"d","v":120,"f":0.95},{"p":"k","s":"d","v":125,"f":1.03},{"p":"k","s":"d","v":130,"f":0.97},{"p":"k","s":"d","v":135,"f":1.05},{"p":"k","s":"d","v":140,"f":0.99},{"p":"k","s":"d","v":145,"f":0.94},{"p":"k","s":"d","v":150,"f":1.02},{"p":"k","s":"d","v":155,"f":0.97},{"p":"k","s":"d","v":160,"f":1.04},{"p":"k","s":"d","v":165,"f":0.98},{"p":"k","s":"d","v":170,"f":1.0},{"p":"k","s":"d","v":175,"f":0.95},{"p":"k","s":"d","v":180,"f":1.03},{"p":"k","s":"d","v":185,"f":0.97},{"p":"k","s":"d","v":190,"f":1.01},{"p":"k","s":"d","v":195,"f":0.96},{"p":"k","s":"d","v":200,"f":1.02},
{"p":"k","s":"m","v":-200,"f":1},{"p":"k","s":"m","v":-105,"f":1},{"p":"k","s":"m","v":-95,"f":0.98},{"p":"k","s":"m","v":-85,"f":0.95},{"p":"k","s":"m","v":-75,"f":0.915},{"p":"k","s":"m","v":-68,"f":0.9},{"p":"k","s":"m","v":-62,"f":0.905},{"p":"k","s":"m","v":-55,"f":0.94},{"p":"k","s":"m","v":-48,"f":0.97},{"p":"k","s":"m","v":-40,"f":0.975},{"p":"k","s":"m","v":-30,"f":0.965},{"p":"k","s":"m","v":-22,"f":0.958},{"p":"k","s":"m","v":-15,"f":0.965},{"p":"k","s":"m","v":-8,"f":0.962},{"p":"k","s":"m","v":-3,"f":0.952},{"p":"k","s":"m","v":0,"f":0.95},{"p":"k","s":"m","v":4,"f":0.96},{"p":"k","s":"m","v":8,"f":0.98},{"p":"k","s":"m","v":12,"f":1},{"p":"k","s":"m","v":200,"f":1}
]},
"hconcat":[
{"vconcat":[
{"width":103,"height":64.3,"layer":[
{"data":{"values":[{}]},"mark":{"type":"rule","color":"#6b6bff","strokeDash":[1.5,1.5],"strokeWidth":0.8},"encoding":{"x":{"datum":-22,"axis":null,"scale":{"domain":[-200,200],"nice":false,"zero":false}}}},
{"data":{"values":[{}]},"mark":{"type":"rule","color":"#1a1a99","strokeDash":[1.5,1.5],"strokeWidth":0.8},"encoding":{"x":{"datum":0,"axis":null}}},
{"data":{"values":[{}]},"mark":{"type":"rule","color":"#444","strokeDash":[1,2],"strokeWidth":0.8},"encoding":{"y":{"datum":0,"axis":null,"scale":{"domain":[-0.08,1.25],"nice":false,"zero":false}}}},
{"data":{"name":"s"},"transform":[{"filter":"datum.p=='a'&&datum.s=='d'"}],"mark":{"type":"line","interpolate":"step","color":"#333","strokeWidth":0.8,"clip":true},"encoding":{"x":{"field":"v","type":"quantitative","axis":{"orient":"bottom","title":null,"labels":false,"values":[-200,-180,-160,-140,-120,-100,-80,-60,-40,-20,0,20,40,60,80,100,120,140,160,180,200],"tickSize":{"condition":{"test":"datum.value % 100 == 0","value":-5},"value":-2.5}}},"y":{"field":"f","type":"quantitative","axis":{"orient":"left","title":null,"labelOverlap":false,"values":[0,0.1,0.2,0.3,0.4,0.5,0.6,0.7,0.8,0.9,1,1.1,1.2],"tickSize":{"condition":{"test":"abs(datum.value*2-round(datum.value*2))<0.001","value":-5},"value":-2.5},"labelExpr":"abs(datum.value*2-round(datum.value*2))<0.001 ? format(datum.value,'~g') : ''"}}}},
{"data":{"name":"s"},"transform":[{"filter":"datum.p=='a'&&datum.s=='m'"}],"mark":{"type":"line","color":"#ee1c25","strokeWidth":1,"clip":true},"encoding":{"x":{"field":"v","type":"quantitative","axis":{"orient":"top","title":null,"labels":false,"values":[-200,-180,-160,-140,-120,-100,-80,-60,-40,-20,0,20,40,60,80,100,120,140,160,180,200],"tickSize":{"condition":{"test":"datum.value % 100 == 0","value":-5},"value":-2.5}}},"y":{"field":"f","type":"quantitative","axis":{"orient":"right","title":null,"labels":false,"values":[0,0.1,0.2,0.3,0.4,0.5,0.6,0.7,0.8,0.9,1,1.1,1.2],"tickSize":{"condition":{"test":"abs(datum.value*2-round(datum.value*2))<0.001","value":-5},"value":-2.5}}}}},
{"data":{"values":[{}]},"mark":{"type":"text","align":"left","baseline":"alphabetic","font":"DejaVu Sans Mono","fontSize":8.5,"fontWeight":"bold","color":"black"},"encoding":{"x":{"datum":-178,"axis":null},"y":{"datum":0.02,"axis":null},"text":{"value":"O I λ 950"}}}
],"resolve":{"axis":{"x":"independent","y":"independent"}}},
{"width":103,"height":64.3,"layer":[
{"data":{"values":[{}]},"mark":{"type":"rule","color":"#6b6bff","strokeDash":[1.5,1.5],"strokeWidth":0.8},"encoding":{"x":{"datum":-22,"axis":null,"scale":{"domain":[-200,200],"nice":false,"zero":false}}}},
{"data":{"values":[{}]},"mark":{"type":"rule","color":"#1a1a99","strokeDash":[1.5,1.5],"strokeWidth":0.8},"encoding":{"x":{"datum":0,"axis":null}}},
{"data":{"values":[{}]},"mark":{"type":"rule","color":"#444","strokeDash":[1,2],"strokeWidth":0.8},"encoding":{"y":{"datum":0,"axis":null,"scale":{"domain":[-0.08,1.25],"nice":false,"zero":false}}}},
{"data":{"name":"s"},"transform":[{"filter":"datum.p=='b'&&datum.s=='d'"}],"mark":{"type":"line","interpolate":"step","color":"#333","strokeWidth":0.8,"clip":true},"encoding":{"x":{"field":"v","type":"quantitative","axis":{"orient":"bottom","title":null,"labels":false,"values":[-200,-180,-160,-140,-120,-100,-80,-60,-40,-20,0,20,40,60,80,100,120,140,160,180,200],"tickSize":{"condition":{"test":"datum.value % 100 == 0","value":-5},"value":-2.5}}},"y":{"field":"f","type":"quantitative","axis":{"orient":"left","title":null,"labelOverlap":false,"values":[0,0.1,0.2,0.3,0.4,0.5,0.6,0.7,0.8,0.9,1,1.1,1.2],"tickSize":{"condition":{"test":"abs(datum.value*2-round(datum.value*2))<0.001","value":-5},"value":-2.5},"labelExpr":"abs(datum.value*2-round(datum.value*2))<0.001 ? format(datum.value,'~g') : ''"}}}},
{"data":{"name":"s"},"transform":[{"filter":"datum.p=='b'&&datum.s=='m'"}],"mark":{"type":"line","color":"#ee1c25","strokeWidth":1,"clip":true},"encoding":{"x":{"field":"v","type":"quantitative","axis":{"orient":"top","title":null,"labels":false,"values":[-200,-180,-160,-140,-120,-100,-80,-60,-40,-20,0,20,40,60,80,100,120,140,160,180,200],"tickSize":{"condition":{"test":"datum.value % 100 == 0","value":-5},"value":-2.5}}},"y":{"field":"f","type":"quantitative","axis":{"orient":"right","title":null,"labels":false,"values":[0,0.1,0.2,0.3,0.4,0.5,0.6,0.7,0.8,0.9,1,1.1,1.2],"tickSize":{"condition":{"test":"abs(datum.value*2-round(datum.value*2))<0.001","value":-5},"value":-2.5}}}}},
{"data":{"values":[{}]},"mark":{"type":"text","align":"left","baseline":"alphabetic","font":"DejaVu Sans Mono","fontSize":8.5,"fontWeight":"bold","color":"black"},"encoding":{"x":{"datum":-178,"axis":null},"y":{"datum":0.02,"axis":null},"text":{"value":"O I λ 976"}}}
],"resolve":{"axis":{"x":"independent","y":"independent"}}},
{"width":103,"height":64.3,"layer":[
{"data":{"values":[{}]},"mark":{"type":"rule","color":"#6b6bff","strokeDash":[1.5,1.5],"strokeWidth":0.8},"encoding":{"x":{"datum":-22,"axis":null,"scale":{"domain":[-200,200],"nice":false,"zero":false}}}},
{"data":{"values":[{}]},"mark":{"type":"rule","color":"#1a1a99","strokeDash":[1.5,1.5],"strokeWidth":0.8},"encoding":{"x":{"datum":0,"axis":null}}},
{"data":{"values":[{}]},"mark":{"type":"rule","color":"#444","strokeDash":[1,2],"strokeWidth":0.8},"encoding":{"y":{"datum":0,"axis":null,"scale":{"domain":[-0.08,1.25],"nice":false,"zero":false}}}},
{"data":{"name":"s"},"transform":[{"filter":"datum.p=='c'&&datum.s=='d'"}],"mark":{"type":"line","interpolate":"step","color":"#333","strokeWidth":0.8,"clip":true},"encoding":{"x":{"field":"v","type":"quantitative","axis":{"orient":"bottom","title":null,"labels":false,"values":[-200,-180,-160,-140,-120,-100,-80,-60,-40,-20,0,20,40,60,80,100,120,140,160,180,200],"tickSize":{"condition":{"test":"datum.value % 100 == 0","value":-5},"value":-2.5}}},"y":{"field":"f","type":"quantitative","axis":{"orient":"left","title":null,"labelOverlap":false,"values":[0,0.1,0.2,0.3,0.4,0.5,0.6,0.7,0.8,0.9,1,1.1,1.2],"tickSize":{"condition":{"test":"abs(datum.value*2-round(datum.value*2))<0.001","value":-5},"value":-2.5},"labelExpr":"abs(datum.value*2-round(datum.value*2))<0.001 ? format(datum.value,'~g') : ''"}}}},
{"data":{"name":"s"},"transform":[{"filter":"datum.p=='c'&&datum.s=='m'"}],"mark":{"type":"line","color":"#ee1c25","strokeWidth":1,"clip":true},"encoding":{"x":{"field":"v","type":"quantitative","axis":{"orient":"top","title":null,"labels":false,"values":[-200,-180,-160,-140,-120,-100,-80,-60,-40,-20,0,20,40,60,80,100,120,140,160,180,200],"tickSize":{"condition":{"test":"datum.value % 100 == 0","value":-5},"value":-2.5}}},"y":{"field":"f","type":"quantitative","axis":{"orient":"right","title":null,"labels":false,"values":[0,0.1,0.2,0.3,0.4,0.5,0.6,0.7,0.8,0.9,1,1.1,1.2],"tickSize":{"condition":{"test":"abs(datum.value*2-round(datum.value*2))<0.001","value":-5},"value":-2.5}}}}},
{"data":{"values":[{}]},"mark":{"type":"text","align":"left","baseline":"alphabetic","font":"DejaVu Sans Mono","fontSize":8.5,"fontWeight":"bold","color":"black"},"encoding":{"x":{"datum":-180,"axis":null},"y":{"datum":0.02,"axis":null},"text":{"value":"Si II λ1020"}}}
],"resolve":{"axis":{"x":"independent","y":"independent"}}},
{"width":103,"height":64.3,"layer":[
{"data":{"values":[{}]},"mark":{"type":"rule","color":"#6b6bff","strokeDash":[1.5,1.5],"strokeWidth":0.8},"encoding":{"x":{"datum":-22,"axis":null,"scale":{"domain":[-200,200],"nice":false,"zero":false}}}},
{"data":{"values":[{}]},"mark":{"type":"rule","color":"#1a1a99","strokeDash":[1.5,1.5],"strokeWidth":0.8},"encoding":{"x":{"datum":0,"axis":null}}},
{"data":{"name":"s"},"transform":[{"filter":"datum.p=='d'&&datum.s=='d'"}],"mark":{"type":"line","interpolate":"step","color":"#333","strokeWidth":0.8,"clip":true},"encoding":{"x":{"field":"v","type":"quantitative","axis":{"orient":"bottom","title":null,"labels":false,"values":[-200,-180,-160,-140,-120,-100,-80,-60,-40,-20,0,20,40,60,80,100,120,140,160,180,200],"tickSize":{"condition":{"test":"datum.value % 100 == 0","value":-5},"value":-2.5}}},"y":{"field":"f","type":"quantitative","scale":{"domain":[0.5,1.1],"nice":false,"zero":false},"axis":{"orient":"left","title":null,"labelOverlap":false,"values":[0.5,0.6,0.7,0.8,0.9,1,1.1],"tickSize":{"condition":{"test":"abs(datum.value*2-round(datum.value*2))<0.001","value":-5},"value":-2.5},"labelExpr":"abs(datum.value*2-round(datum.value*2))<0.001 ? format(datum.value,'~g') : ''"}}}},
{"data":{"name":"s"},"transform":[{"filter":"datum.p=='d'&&datum.s=='m'"}],"mark":{"type":"line","color":"#ee1c25","strokeWidth":1,"clip":true},"encoding":{"x":{"field":"v","type":"quantitative","axis":{"orient":"top","title":null,"labels":false,"values":[-200,-180,-160,-140,-120,-100,-80,-60,-40,-20,0,20,40,60,80,100,120,140,160,180,200],"tickSize":{"condition":{"test":"datum.value % 100 == 0","value":-5},"value":-2.5}}},"y":{"field":"f","type":"quantitative","axis":{"orient":"right","title":null,"labels":false,"values":[0.5,0.6,0.7,0.8,0.9,1,1.1],"tickSize":{"condition":{"test":"abs(datum.value*2-round(datum.value*2))<0.001","value":-5},"value":-2.5}}}}},
{"data":{"values":[{}]},"mark":{"type":"text","align":"left","baseline":"alphabetic","font":"DejaVu Sans Mono","fontSize":8.5,"fontWeight":"bold","color":"black"},"encoding":{"x":{"datum":-180,"axis":null},"y":{"datum":0.56,"axis":null},"text":{"value":"Si II λ1808"}}}
],"resolve":{"axis":{"x":"independent","y":"independent"}}},
{"width":103,"height":64.3,"layer":[
{"data":{"values":[{}]},"mark":{"type":"rule","color":"#6b6bff","strokeDash":[1.5,1.5],"strokeWidth":0.8},"encoding":{"x":{"datum":-22,"axis":null,"scale":{"domain":[-200,200],"nice":false,"zero":false}}}},
{"data":{"values":[{}]},"mark":{"type":"rule","color":"#1a1a99","strokeDash":[1.5,1.5],"strokeWidth":0.8},"encoding":{"x":{"datum":0,"axis":null}}},
{"data":{"name":"s"},"transform":[{"filter":"datum.p=='e'&&datum.s=='d'"}],"mark":{"type":"line","interpolate":"step","color":"#333","strokeWidth":0.8,"clip":true},"encoding":{"x":{"field":"v","type":"quantitative","axis":{"orient":"bottom","title":null,"labels":false,"values":[-200,-180,-160,-140,-120,-100,-80,-60,-40,-20,0,20,40,60,80,100,120,140,160,180,200],"tickSize":{"condition":{"test":"datum.value % 100 == 0","value":-5},"value":-2.5}}},"y":{"field":"f","type":"quantitative","scale":{"domain":[0.5,1.1],"nice":false,"zero":false},"axis":{"orient":"left","title":null,"labelOverlap":false,"values":[0.5,0.6,0.7,0.8,0.9,1,1.1],"tickSize":{"condition":{"test":"abs(datum.value*2-round(datum.value*2))<0.001","value":-5},"value":-2.5},"labelExpr":"abs(datum.value*2-round(datum.value*2))<0.001 ? format(datum.value,'~g') : ''"}}}},
{"data":{"name":"s"},"transform":[{"filter":"datum.p=='e'&&datum.s=='m'"}],"mark":{"type":"line","color":"#ee1c25","strokeWidth":1,"clip":true},"encoding":{"x":{"field":"v","type":"quantitative","axis":{"orient":"top","title":null,"labels":false,"values":[-200,-180,-160,-140,-120,-100,-80,-60,-40,-20,0,20,40,60,80,100,120,140,160,180,200],"tickSize":{"condition":{"test":"datum.value % 100 == 0","value":-5},"value":-2.5}}},"y":{"field":"f","type":"quantitative","axis":{"orient":"right","title":null,"labels":false,"values":[0.5,0.6,0.7,0.8,0.9,1,1.1],"tickSize":{"condition":{"test":"abs(datum.value*2-round(datum.value*2))<0.001","value":-5},"value":-2.5}}}}},
{"data":{"values":[{}]},"mark":{"type":"text","align":"left","baseline":"alphabetic","font":"DejaVu Sans Mono","fontSize":8.5,"fontWeight":"bold","color":"black"},"encoding":{"x":{"datum":-178,"axis":null},"y":{"datum":0.56,"axis":null},"text":{"value":"P II λ 963"}}}
],"resolve":{"axis":{"x":"independent","y":"independent"}}},
{"width":103,"height":64.3,"layer":[
{"data":{"values":[{}]},"mark":{"type":"rule","color":"#6b6bff","strokeDash":[1.5,1.5],"strokeWidth":0.8},"encoding":{"x":{"datum":-22,"axis":null,"scale":{"domain":[-200,200],"nice":false,"zero":false}}}},
{"data":{"values":[{}]},"mark":{"type":"rule","color":"#1a1a99","strokeDash":[1.5,1.5],"strokeWidth":0.8},"encoding":{"x":{"datum":0,"axis":null}}},
{"data":{"name":"s"},"transform":[{"filter":"datum.p=='f'&&datum.s=='d'"}],"mark":{"type":"line","interpolate":"step","color":"#333","strokeWidth":0.8,"clip":true},"encoding":{"x":{"field":"v","type":"quantitative","axis":{"orient":"bottom","title":null,"labels":true,"labelOverlap":false,"labelExpr":"datum.value % 100 == 0 ? ''+datum.value : ''","values":[-200,-180,-160,-140,-120,-100,-80,-60,-40,-20,0,20,40,60,80,100,120,140,160,180,200],"tickSize":{"condition":{"test":"datum.value % 100 == 0","value":-5},"value":-2.5}}},"y":{"field":"f","type":"quantitative","scale":{"domain":[0.75,1.05],"nice":false,"zero":false},"axis":{"orient":"left","title":null,"labelOverlap":false,"values":[0.76,0.78,0.8,0.82,0.84,0.86,0.88,0.9,0.92,0.94,0.96,0.98,1,1.02,1.04],"tickSize":{"condition":{"test":"abs(datum.value*10-round(datum.value*10))<0.001","value":-5},"value":-2.5},"labelExpr":"abs(datum.value*10-round(datum.value*10))<0.001 ? format(datum.value,'~g') : ''"}}}},
{"data":{"name":"s"},"transform":[{"filter":"datum.p=='f'&&datum.s=='m'"}],"mark":{"type":"line","color":"#ee1c25","strokeWidth":1,"clip":true},"encoding":{"x":{"field":"v","type":"quantitative","axis":{"orient":"top","title":null,"labels":false,"values":[-200,-180,-160,-140,-120,-100,-80,-60,-40,-20,0,20,40,60,80,100,120,140,160,180,200],"tickSize":{"condition":{"test":"datum.value % 100 == 0","value":-5},"value":-2.5}}},"y":{"field":"f","type":"quantitative","axis":{"orient":"right","title":null,"labels":false,"values":[0.76,0.78,0.8,0.82,0.84,0.86,0.88,0.9,0.92,0.94,0.96,0.98,1,1.02,1.04],"tickSize":{"condition":{"test":"abs(datum.value*10-round(datum.value*10))<0.001","value":-5},"value":-2.5}}}}},
{"data":{"values":[{}]},"mark":{"type":"text","align":"left","baseline":"alphabetic","font":"DejaVu Sans Mono","fontSize":8.5,"fontWeight":"bold","color":"black"},"encoding":{"x":{"datum":-180,"axis":null},"y":{"datum":0.79,"axis":null},"text":{"value":"Cr II λ2056"}}}
],"resolve":{"axis":{"x":"independent","y":"independent"}}}
],"spacing":0,"bounds":"flush"},
{"vconcat":[
{"width":102,"height":64.3,"layer":[
{"data":{"values":[{}]},"mark":{"type":"rule","color":"#6b6bff","strokeDash":[1.5,1.5],"strokeWidth":0.8},"encoding":{"x":{"datum":-22,"axis":null,"scale":{"domain":[-200,200],"nice":false,"zero":false}}}},
{"data":{"values":[{}]},"mark":{"type":"rule","color":"#1a1a99","strokeDash":[1.5,1.5],"strokeWidth":0.8},"encoding":{"x":{"datum":0,"axis":null}}},
{"data":{"name":"s"},"transform":[{"filter":"datum.p=='g'&&datum.s=='d'"}],"mark":{"type":"line","interpolate":"step","color":"#333","strokeWidth":0.8,"clip":true},"encoding":{"x":{"field":"v","type":"quantitative","axis":{"orient":"bottom","title":null,"labels":false,"values":[-200,-180,-160,-140,-120,-100,-80,-60,-40,-20,0,20,40,60,80,100,120,140,160,180,200],"tickSize":{"condition":{"test":"datum.value % 100 == 0","value":-5},"value":-2.5}}},"y":{"field":"f","type":"quantitative","scale":{"domain":[0.75,1.05],"nice":false,"zero":false},"axis":{"orient":"left","title":null,"labelOverlap":false,"values":[0.76,0.78,0.8,0.82,0.84,0.86,0.88,0.9,0.92,0.94,0.96,0.98,1,1.02,1.04],"tickSize":{"condition":{"test":"abs(datum.value*10-round(datum.value*10))<0.001","value":-5},"value":-2.5},"labelExpr":"abs(datum.value*10-round(datum.value*10))<0.001 ? format(datum.value,'~g') : ''"}}}},
{"data":{"name":"s"},"transform":[{"filter":"datum.p=='g'&&datum.s=='m'"}],"mark":{"type":"line","color":"#ee1c25","strokeWidth":1,"clip":true},"encoding":{"x":{"field":"v","type":"quantitative","axis":{"orient":"top","title":null,"labels":false,"values":[-200,-180,-160,-140,-120,-100,-80,-60,-40,-20,0,20,40,60,80,100,120,140,160,180,200],"tickSize":{"condition":{"test":"datum.value % 100 == 0","value":-5},"value":-2.5}}},"y":{"field":"f","type":"quantitative","axis":{"orient":"right","title":null,"labels":false,"values":[0.76,0.78,0.8,0.82,0.84,0.86,0.88,0.9,0.92,0.94,0.96,0.98,1,1.02,1.04],"tickSize":{"condition":{"test":"abs(datum.value*10-round(datum.value*10))<0.001","value":-5},"value":-2.5}}}}},
{"data":{"values":[{}]},"mark":{"type":"text","align":"left","baseline":"alphabetic","font":"DejaVu Sans Mono","fontSize":8.5,"fontWeight":"bold","color":"black"},"encoding":{"x":{"datum":-188,"axis":null},"y":{"datum":0.78,"axis":null},"text":{"value":"Cr II λ2062"}}}
],"resolve":{"axis":{"x":"independent","y":"independent"}}},
{"width":102,"height":64.3,"layer":[
{"data":{"values":[{}]},"mark":{"type":"rule","color":"#6b6bff","strokeDash":[1.5,1.5],"strokeWidth":0.8},"encoding":{"x":{"datum":-22,"axis":null,"scale":{"domain":[-200,200],"nice":false,"zero":false}}}},
{"data":{"values":[{}]},"mark":{"type":"rule","color":"#1a1a99","strokeDash":[1.5,1.5],"strokeWidth":0.8},"encoding":{"x":{"datum":0,"axis":null}}},
{"data":{"values":[{}]},"mark":{"type":"rule","color":"#444","strokeDash":[1,2],"strokeWidth":0.8},"encoding":{"y":{"datum":0,"axis":null,"scale":{"domain":[-0.08,1.25],"nice":false,"zero":false}}}},
{"data":{"name":"s"},"transform":[{"filter":"datum.p=='h'&&datum.s=='d'"}],"mark":{"type":"line","interpolate":"step","color":"#333","strokeWidth":0.8,"clip":true},"encoding":{"x":{"field":"v","type":"quantitative","axis":{"orient":"bottom","title":null,"labels":false,"values":[-200,-180,-160,-140,-120,-100,-80,-60,-40,-20,0,20,40,60,80,100,120,140,160,180,200],"tickSize":{"condition":{"test":"datum.value % 100 == 0","value":-5},"value":-2.5}}},"y":{"field":"f","type":"quantitative","axis":{"orient":"left","title":null,"labelOverlap":false,"values":[0,0.1,0.2,0.3,0.4,0.5,0.6,0.7,0.8,0.9,1,1.1,1.2],"tickSize":{"condition":{"test":"abs(datum.value*2-round(datum.value*2))<0.001","value":-5},"value":-2.5},"labelExpr":"abs(datum.value*2-round(datum.value*2))<0.001 ? format(datum.value,'~g') : ''"}}}},
{"data":{"name":"s"},"transform":[{"filter":"datum.p=='h'&&datum.s=='m'"}],"mark":{"type":"line","color":"#ee1c25","strokeWidth":1,"clip":true},"encoding":{"x":{"field":"v","type":"quantitative","axis":{"orient":"top","title":null,"labels":false,"values":[-200,-180,-160,-140,-120,-100,-80,-60,-40,-20,0,20,40,60,80,100,120,140,160,180,200],"tickSize":{"condition":{"test":"datum.value % 100 == 0","value":-5},"value":-2.5}}},"y":{"field":"f","type":"quantitative","axis":{"orient":"right","title":null,"labels":false,"values":[0,0.1,0.2,0.3,0.4,0.5,0.6,0.7,0.8,0.9,1,1.1,1.2],"tickSize":{"condition":{"test":"abs(datum.value*2-round(datum.value*2))<0.001","value":-5},"value":-2.5}}}}},
{"data":{"values":[{}]},"mark":{"type":"text","align":"left","baseline":"alphabetic","font":"DejaVu Sans Mono","fontSize":8.5,"fontWeight":"bold","color":"black"},"encoding":{"x":{"datum":-188,"axis":null},"y":{"datum":0.02,"axis":null},"text":{"value":"Fe II λ1096"}}}
],"resolve":{"axis":{"x":"independent","y":"independent"}}},
{"width":102,"height":64.3,"layer":[
{"data":{"values":[{}]},"mark":{"type":"rule","color":"#6b6bff","strokeDash":[1.5,1.5],"strokeWidth":0.8},"encoding":{"x":{"datum":-22,"axis":null,"scale":{"domain":[-200,200],"nice":false,"zero":false}}}},
{"data":{"values":[{}]},"mark":{"type":"rule","color":"#1a1a99","strokeDash":[1.5,1.5],"strokeWidth":0.8},"encoding":{"x":{"datum":0,"axis":null}}},
{"data":{"values":[{}]},"mark":{"type":"rule","color":"#444","strokeDash":[1,2],"strokeWidth":0.8},"encoding":{"y":{"datum":0,"axis":null,"scale":{"domain":[-0.08,1.25],"nice":false,"zero":false}}}},
{"data":{"name":"s"},"transform":[{"filter":"datum.p=='i'&&datum.s=='d'"}],"mark":{"type":"line","interpolate":"step","color":"#333","strokeWidth":0.8,"clip":true},"encoding":{"x":{"field":"v","type":"quantitative","axis":{"orient":"bottom","title":null,"labels":false,"values":[-200,-180,-160,-140,-120,-100,-80,-60,-40,-20,0,20,40,60,80,100,120,140,160,180,200],"tickSize":{"condition":{"test":"datum.value % 100 == 0","value":-5},"value":-2.5}}},"y":{"field":"f","type":"quantitative","axis":{"orient":"left","title":null,"labelOverlap":false,"values":[0,0.1,0.2,0.3,0.4,0.5,0.6,0.7,0.8,0.9,1,1.1,1.2],"tickSize":{"condition":{"test":"abs(datum.value*2-round(datum.value*2))<0.001","value":-5},"value":-2.5},"labelExpr":"abs(datum.value*2-round(datum.value*2))<0.001 ? format(datum.value,'~g') : ''"}}}},
{"data":{"name":"s"},"transform":[{"filter":"datum.p=='i'&&datum.s=='m'"}],"mark":{"type":"line","color":"#ee1c25","strokeWidth":1,"clip":true},"encoding":{"x":{"field":"v","type":"quantitative","axis":{"orient":"top","title":null,"labels":false,"values":[-200,-180,-160,-140,-120,-100,-80,-60,-40,-20,0,20,40,60,80,100,120,140,160,180,200],"tickSize":{"condition":{"test":"datum.value % 100 == 0","value":-5},"value":-2.5}}},"y":{"field":"f","type":"quantitative","axis":{"orient":"right","title":null,"labels":false,"values":[0,0.1,0.2,0.3,0.4,0.5,0.6,0.7,0.8,0.9,1,1.1,1.2],"tickSize":{"condition":{"test":"abs(datum.value*2-round(datum.value*2))<0.001","value":-5},"value":-2.5}}}}},
{"data":{"values":[{}]},"mark":{"type":"text","align":"left","baseline":"alphabetic","font":"DejaVu Sans Mono","fontSize":8.5,"fontWeight":"bold","color":"black"},"encoding":{"x":{"datum":-188,"axis":null},"y":{"datum":0.02,"axis":null},"text":{"value":"Fe II λ1608"}}}
],"resolve":{"axis":{"x":"independent","y":"independent"}}},
{"width":102,"height":64.3,"layer":[
{"data":{"values":[{}]},"mark":{"type":"rule","color":"#6b6bff","strokeDash":[1.5,1.5],"strokeWidth":0.8},"encoding":{"x":{"datum":-22,"axis":null,"scale":{"domain":[-200,200],"nice":false,"zero":false}}}},
{"data":{"values":[{}]},"mark":{"type":"rule","color":"#1a1a99","strokeDash":[1.5,1.5],"strokeWidth":0.8},"encoding":{"x":{"datum":0,"axis":null}}},
{"data":{"name":"s"},"transform":[{"filter":"datum.p=='j'&&datum.s=='d'"}],"mark":{"type":"line","interpolate":"step","color":"#333","strokeWidth":0.8,"clip":true},"encoding":{"x":{"field":"v","type":"quantitative","axis":{"orient":"bottom","title":null,"labels":false,"values":[-200,-180,-160,-140,-120,-100,-80,-60,-40,-20,0,20,40,60,80,100,120,140,160,180,200],"tickSize":{"condition":{"test":"datum.value % 100 == 0","value":-5},"value":-2.5}}},"y":{"field":"f","type":"quantitative","scale":{"domain":[0.75,1.05],"nice":false,"zero":false},"axis":{"orient":"left","title":null,"labelOverlap":false,"values":[0.76,0.78,0.8,0.82,0.84,0.86,0.88,0.9,0.92,0.94,0.96,0.98,1,1.02,1.04],"tickSize":{"condition":{"test":"abs(datum.value*10-round(datum.value*10))<0.001","value":-5},"value":-2.5},"labelExpr":"abs(datum.value*10-round(datum.value*10))<0.001 ? format(datum.value,'~g') : ''"}}}},
{"data":{"name":"s"},"transform":[{"filter":"datum.p=='j'&&datum.s=='m'"}],"mark":{"type":"line","color":"#ee1c25","strokeWidth":1,"clip":true},"encoding":{"x":{"field":"v","type":"quantitative","axis":{"orient":"top","title":null,"labels":false,"values":[-200,-180,-160,-140,-120,-100,-80,-60,-40,-20,0,20,40,60,80,100,120,140,160,180,200],"tickSize":{"condition":{"test":"datum.value % 100 == 0","value":-5},"value":-2.5}}},"y":{"field":"f","type":"quantitative","axis":{"orient":"right","title":null,"labels":false,"values":[0.76,0.78,0.8,0.82,0.84,0.86,0.88,0.9,0.92,0.94,0.96,0.98,1,1.02,1.04],"tickSize":{"condition":{"test":"abs(datum.value*10-round(datum.value*10))<0.001","value":-5},"value":-2.5}}}}},
{"data":{"values":[{}]},"mark":{"type":"text","align":"left","baseline":"alphabetic","font":"DejaVu Sans Mono","fontSize":8.5,"fontWeight":"bold","color":"black"},"encoding":{"x":{"datum":-188,"axis":null},"y":{"datum":0.78,"axis":null},"text":{"value":"Zn II λ2026"}}}
],"resolve":{"axis":{"x":"independent","y":"independent"}}},
{"width":102,"height":64.3,"layer":[
{"data":{"values":[{}]},"mark":{"type":"rule","color":"#6b6bff","strokeDash":[1.5,1.5],"strokeWidth":0.8},"encoding":{"x":{"datum":-22,"axis":null,"scale":{"domain":[-200,200],"nice":false,"zero":false}}}},
{"data":{"values":[{}]},"mark":{"type":"rule","color":"#1a1a99","strokeDash":[1.5,1.5],"strokeWidth":0.8},"encoding":{"x":{"datum":0,"axis":null}}},
{"data":{"name":"s"},"transform":[{"filter":"datum.p=='k'&&datum.s=='d'"}],"mark":{"type":"line","interpolate":"step","color":"#333","strokeWidth":0.8,"clip":true},"encoding":{"x":{"field":"v","type":"quantitative","axis":{"orient":"bottom","title":null,"labels":true,"labelOverlap":false,"labelExpr":"datum.value % 100 == 0 ? ''+datum.value : ''","values":[-200,-180,-160,-140,-120,-100,-80,-60,-40,-20,0,20,40,60,80,100,120,140,160,180,200],"tickSize":{"condition":{"test":"datum.value % 100 == 0","value":-5},"value":-2.5}}},"y":{"field":"f","type":"quantitative","scale":{"domain":[0.75,1.05],"nice":false,"zero":false},"axis":{"orient":"left","title":null,"labelOverlap":false,"values":[0.76,0.78,0.8,0.82,0.84,0.86,0.88,0.9,0.92,0.94,0.96,0.98,1,1.02,1.04],"tickSize":{"condition":{"test":"abs(datum.value*10-round(datum.value*10))<0.001","value":-5},"value":-2.5},"labelExpr":"abs(datum.value*10-round(datum.value*10))<0.001 ? format(datum.value,'~g') : ''"}}}},
{"data":{"name":"s"},"transform":[{"filter":"datum.p=='k'&&datum.s=='m'"}],"mark":{"type":"line","color":"#ee1c25","strokeWidth":1,"clip":true},"encoding":{"x":{"field":"v","type":"quantitative","axis":{"orient":"top","title":null,"labels":false,"values":[-200,-180,-160,-140,-120,-100,-80,-60,-40,-20,0,20,40,60,80,100,120,140,160,180,200],"tickSize":{"condition":{"test":"datum.value % 100 == 0","value":-5},"value":-2.5}}},"y":{"field":"f","type":"quantitative","axis":{"orient":"right","title":null,"labels":false,"values":[0.76,0.78,0.8,0.82,0.84,0.86,0.88,0.9,0.92,0.94,0.96,0.98,1,1.02,1.04],"tickSize":{"condition":{"test":"abs(datum.value*10-round(datum.value*10))<0.001","value":-5},"value":-2.5}}}}},
{"data":{"values":[{}]},"mark":{"type":"text","align":"left","baseline":"alphabetic","font":"DejaVu Sans Mono","fontSize":8.5,"fontWeight":"bold","color":"black"},"encoding":{"x":{"datum":-188,"axis":null},"y":{"datum":0.78,"axis":null},"text":{"value":"Zn II λ2062"}}}
],"resolve":{"axis":{"x":"independent","y":"independent"}}}
],"spacing":0,"bounds":"flush"}
],
"spacing":8
}
